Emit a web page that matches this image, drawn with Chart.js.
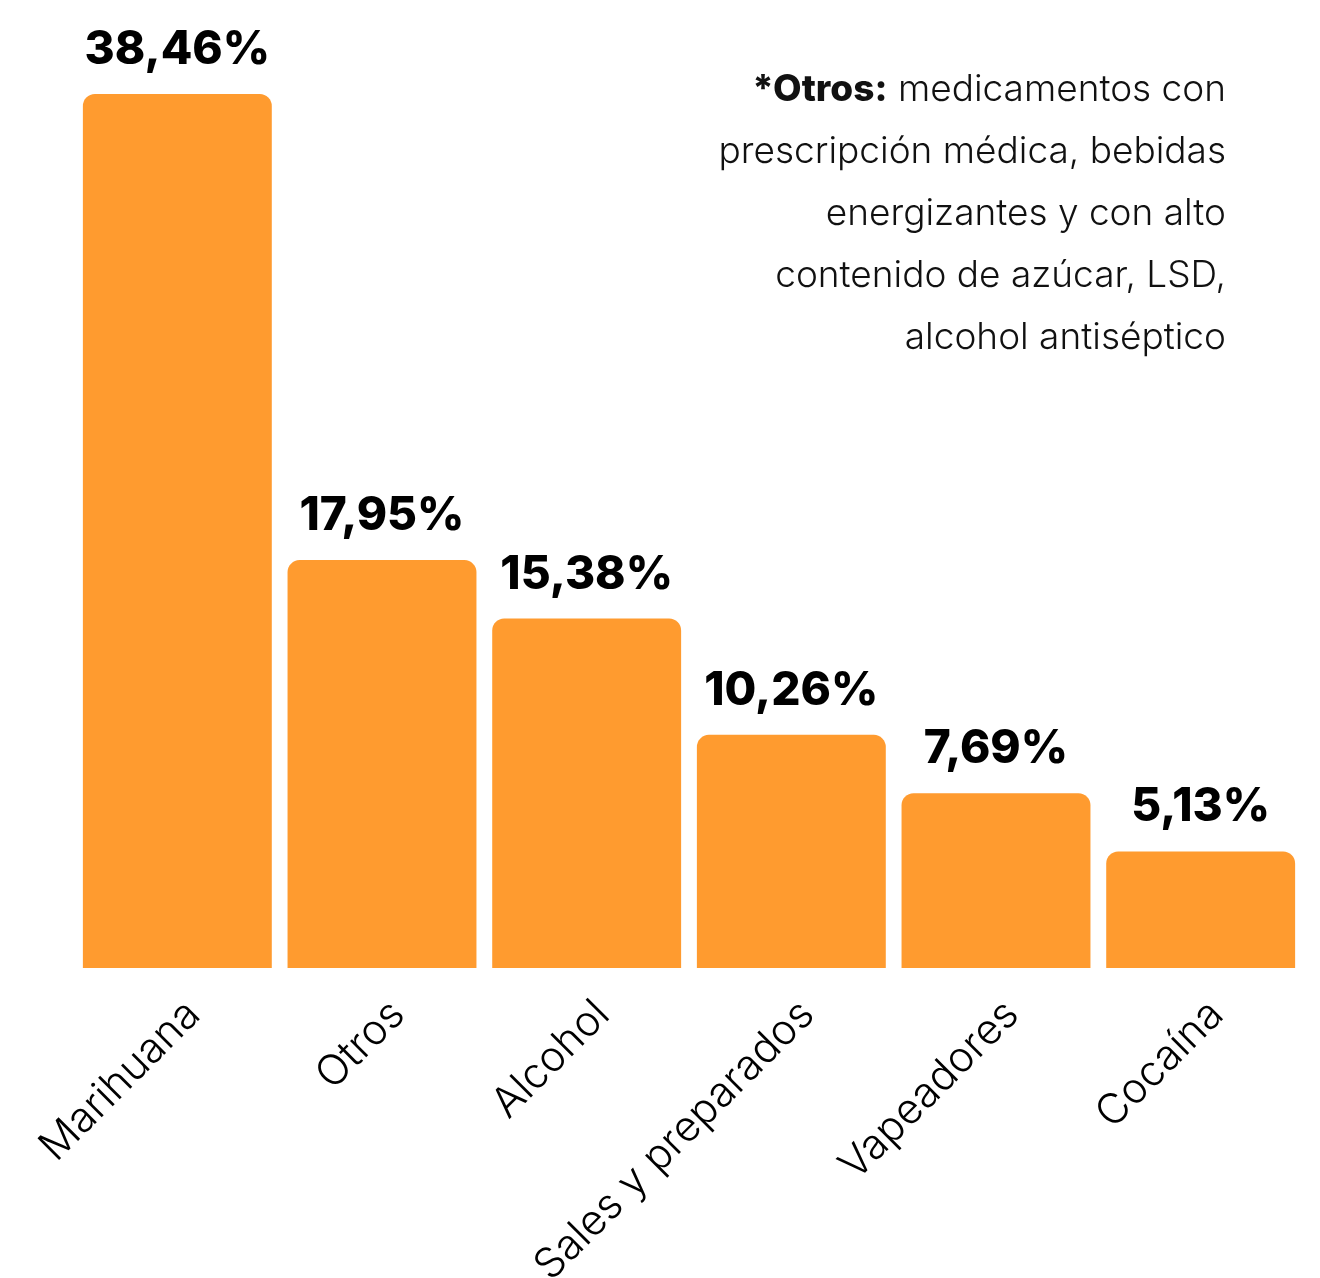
<!DOCTYPE html>
<html>
<head>
<meta charset="utf-8">
<script src="https://cdn.jsdelivr.net/npm/chart.js@4"></script>
<style>
  html, body { margin: 0; padding: 0; background: #fff; }
  #wrap { position: relative; width: 1320px; height: 1278px; }
  #nota {
    position: absolute; right: 94px; top: 57px;
    font-family: Inter, "Noto Sans", sans-serif; font-size: 37px; font-weight: 300;
    line-height: 62px; text-align: right; color: #111;
  }
  #nota b { font-weight: 800; }
</style>
</head>
<body>
<div id="wrap">
  <canvas id="chart" width="1320" height="1278"></canvas>
  <div id="nota"><b>*Otros:</b> medicamentos con<br>prescripción médica, bebidas<br>energizantes y con alto<br>contenido de azúcar, LSD,<br>alcohol antiséptico</div>
</div>
<script>
const categorias = ['Marihuana', 'Otros', 'Alcohol', 'Sales y preparados', 'Vapeadores', 'Cocaína'];
const porcentajes = [38.46, 17.95, 15.38, 10.26, 7.69, 5.13];

const FONT = 'Inter, "Noto Sans", sans-serif';

// etiquetas de valor sobre cada barra
const valueLabels = {
    id: 'valueLabels',
    afterDatasetsDraw(chart) {
        const ctx = chart.ctx;
        const meta = chart.getDatasetMeta(0);
        ctx.save();
        ctx.fillStyle = '#000';
        ctx.font = `800 46px ${FONT}`;
        ctx.textAlign = 'center';
        ctx.textBaseline = 'alphabetic';
        meta.data.forEach((bar, i) => {
            const txt = porcentajes[i].toFixed(2).replace('.', ',') + '%';
            ctx.fillText(txt, bar.x, bar.y - 30);
        });
        ctx.restore();
    }
};

new Chart(document.getElementById('chart'), {
    type: 'bar',
    data: {
        labels: categorias,
        datasets: [{
            data: porcentajes,
            backgroundColor: '#FF9B2F',
            borderRadius: { topLeft: 12, topRight: 12 },
            borderSkipped: 'bottom',
            categoryPercentage: 1,
            barPercentage: 0.923
        }]
    },
    options: {
        responsive: false,
        animation: false,
        layout: { padding: { left: 75, right: 17, top: 0, bottom: 0 } },
        plugins: { legend: { display: false }, tooltip: { enabled: false } },
        scales: {
            y: { display: false, min: 0, max: 42.6 },
            x: {
                grid: { display: false, drawTicks: false },
                border: { display: false },
                ticks: {
                    color: '#000',
                    font: { family: FONT, size: 42, weight: 300 },
                    minRotation: 45,
                    maxRotation: 45,
                    padding: 22,
                    labelOffset: 16
                },
                afterFit(scale) {
                    scale.height = 310;
                    scale.paddingLeft = 0;
                    scale.paddingRight = 0;
                }
            }
        }
    },
    plugins: [valueLabels]
});
</script>
</body>
</html>
